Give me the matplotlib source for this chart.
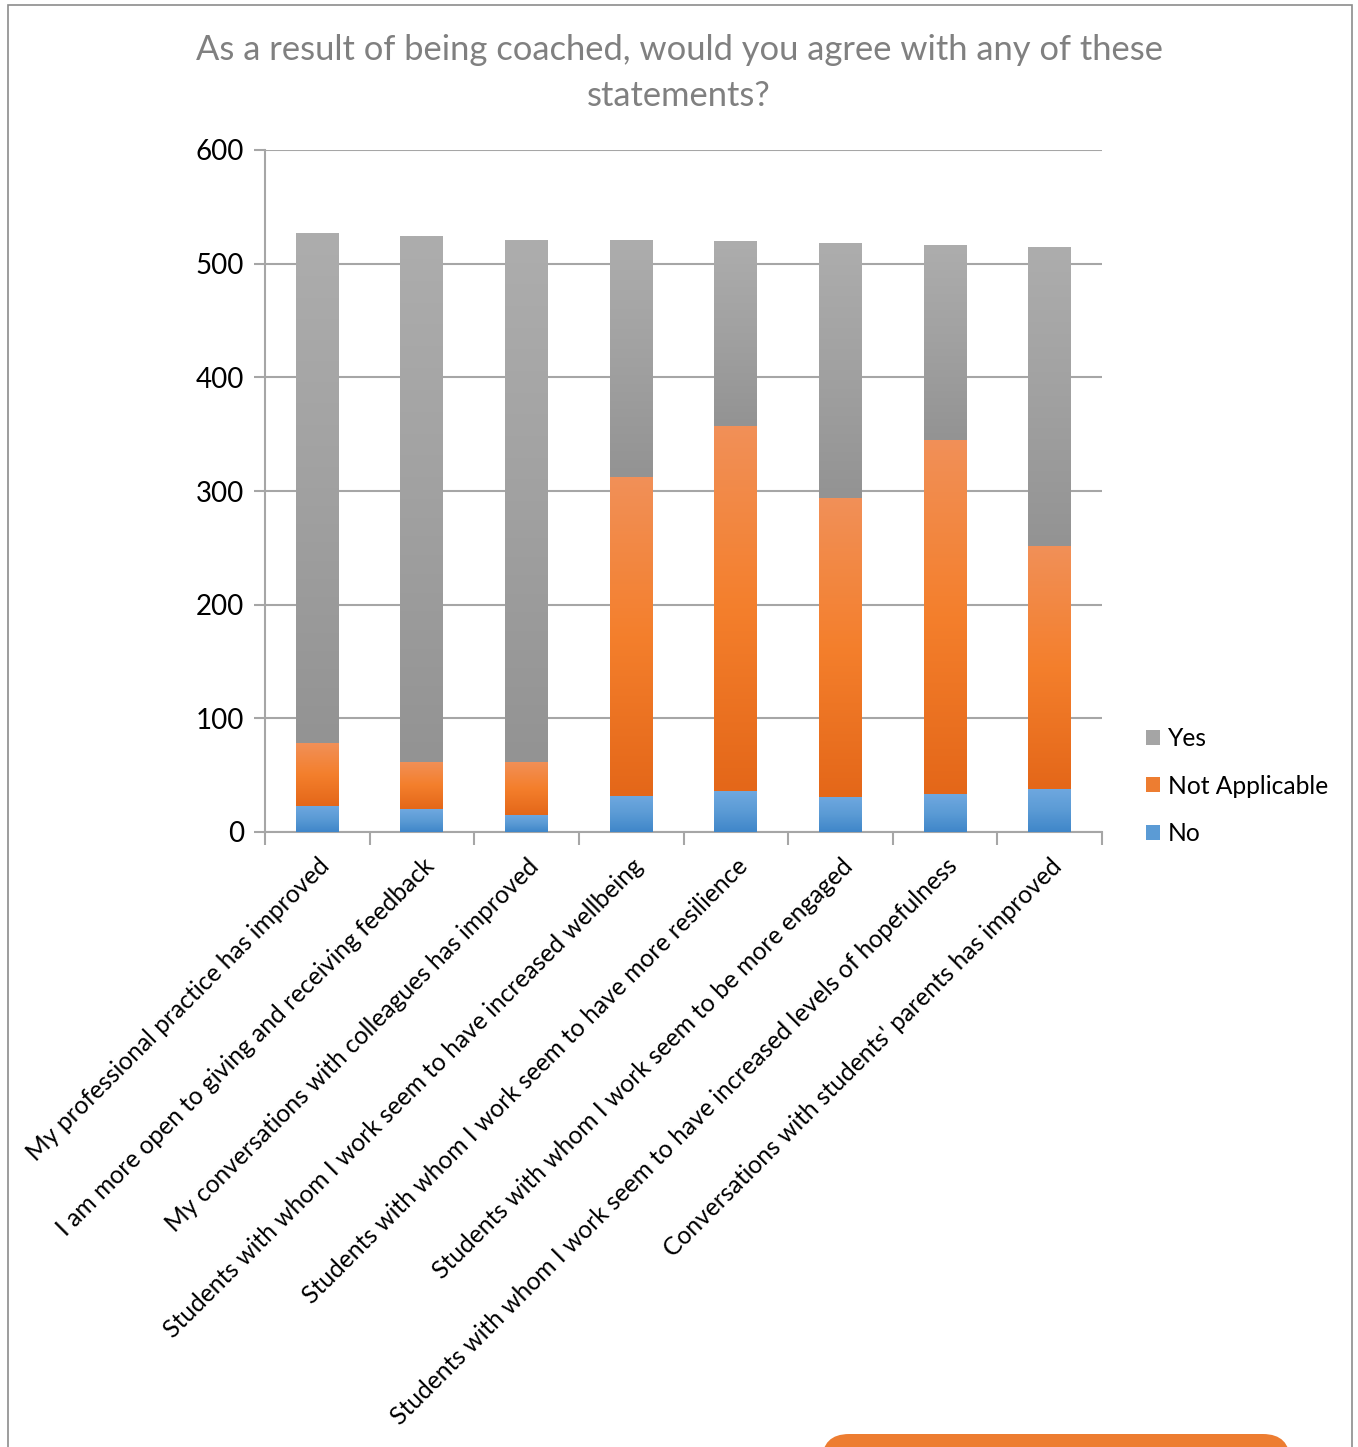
import numpy as np
import matplotlib
matplotlib.use("Agg")
import matplotlib.pyplot as plt
from matplotlib.colors import LinearSegmentedColormap
from matplotlib.patches import Rectangle, FancyBboxPatch, Patch

plt.rcParams['font.family'] = ['Lato', 'DejaVu Sans']

# data
categories = [
    "My professional practice has improved",
    "I am more open to giving and receiving feedback",
    "My conversations with colleagues has improved",
    "Students with whom I work seem to have increased wellbeing",
    "Students with whom I work seem to have more resilience",
    "Students with whom I work seem to be more engaged",
    "Students with whom I work seem to have increased levels of hopefulness",
    "Conversations with students' parents has improved",
]
no_vals = [23, 20, 15, 32, 36, 31, 33, 38]
na_vals = [55, 42, 47, 280, 321, 263, 312, 214]
yes_vals = [448, 462, 459, 208, 162, 224, 171, 263]
series_names = ["No", "Not Applicable", "Yes"]
title = "As a result of being coached, would you agree with any of these\nstatements?"

# gradient colours (top -> bottom)
grads = {
    "No": ["#6fa8e0", "#5b9bd5", "#3f86c9"],
    "Not Applicable": ["#f19058", "#f47f2c", "#e46719"],
    "Yes": ["#adadad", "#a1a1a1", "#939393"],
}
solid = {"No": "#5b9bd5", "Not Applicable": "#ed7d31", "Yes": "#a5a5a5"}

fig = plt.figure(figsize=(13.58, 14.47), dpi=100)
ax = fig.add_axes([265 / 1358, 1 - 832 / 1447, (1102 - 265) / 1358, (832 - 150) / 1447])

x = np.arange(len(categories))
w = 0.41
bottom = np.zeros(len(categories))
for name, vals in zip(series_names, [no_vals, na_vals, yes_vals]):
    cmap = LinearSegmentedColormap.from_list(name, grads[name][::-1])
    grad = np.linspace(0, 1, 256).reshape(-1, 1)
    for xi, b, v in zip(x, bottom, vals):
        ax.imshow(grad, cmap=cmap, origin='lower', aspect='auto',
                  extent=[xi - w / 2, xi + w / 2, b, b + v], zorder=3,
                  interpolation='bilinear')
    bottom += np.array(vals)

ax.set_xlim(-0.5, len(categories) - 0.5)
ax.set_ylim(0, 600)
ax.set_yticks(np.arange(0, 601, 100))
ax.grid(axis='y', color='#a6a6a6', lw=1.5, zorder=0)
ax.set_axisbelow(True)
for s in ['top', 'right']:
    ax.spines[s].set_visible(False)
ax.spines['left'].set_color('#a6a6a6')
ax.spines['left'].set_linewidth(1.5)
ax.spines['bottom'].set_color('#a6a6a6')
ax.spines['bottom'].set_linewidth(1.5)
ax.tick_params(axis='y', length=8, width=1.5, color='#a6a6a6', labelsize=20, pad=7)
ax.set_xticks(x)
ax.set_xticklabels(categories, rotation=45, ha='right', va='top',
                   rotation_mode='anchor', fontsize=17.7)
ax.tick_params(axis='x', length=0, pad=16)
ax.set_xticks(np.arange(-0.5, len(categories)), minor=True)
ax.tick_params(axis='x', which='minor', length=9, width=1.5, color='#a6a6a6')

fig.text(0.5, 1 - 73 / 1447, title, ha='center', va='center', fontsize=24.8,
         color='#808080', linespacing=1.5)

handles = [Patch(facecolor=solid[n], edgecolor='none') for n in ["Yes", "Not Applicable", "No"]]
fig.legend(handles, ["Yes", "Not Applicable", "No"], loc='center left',
           bbox_to_anchor=(1124 / 1358, 1 - 786 / 1447), frameon=False,
           fontsize=17.7, handlelength=0.55, handleheight=0.55, handletextpad=0.35,
           labelspacing=1.0)

# chart frame and the clipped orange box at the bottom
fig.add_artist(Rectangle((8 / 1358, -0.01), (1352 - 8) / 1358, 1.01 - 5 / 1447,
                         transform=fig.transFigure, fill=False,
                         edgecolor='#8c8c8c', lw=1.2))
fig.add_artist(FancyBboxPatch((822 / 1358, -0.05), (1290 - 822) / 1358,
                              0.05 + (1447 - 1434) / 1447,
                              boxstyle="round,pad=0,rounding_size=0.02",
                              transform=fig.transFigure, facecolor='#ed7d31',
                              edgecolor='none', mutation_aspect=1358 / 1447))

fig.savefig("out.png", dpi=100)
